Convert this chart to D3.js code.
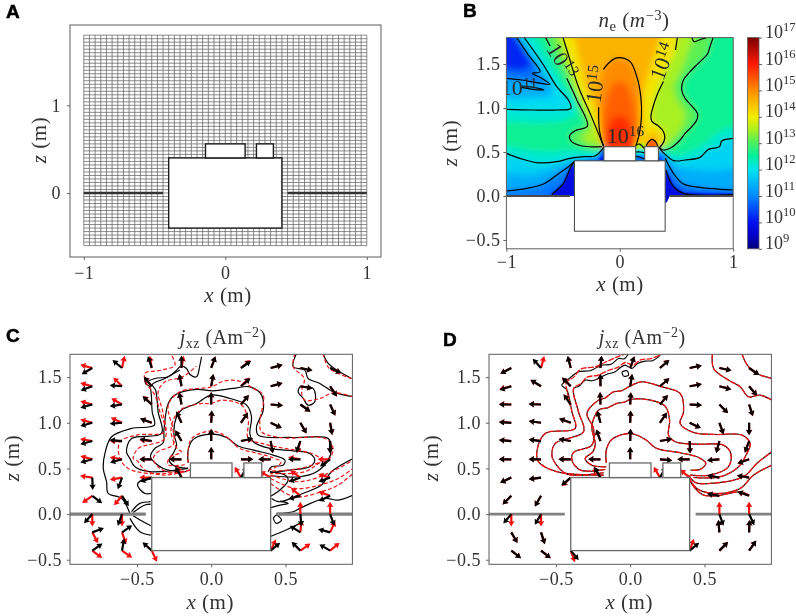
<!DOCTYPE html>
<html lang="en">
  <head>
    <meta charset="UTF-8" />
    <title>Plasma mesh, density and current</title>
    <style type="text/css">
      body {
        margin: 0;
        background: #ffffff;
      }
      svg {
        display: block;
        font-family: "Liberation Serif", serif;
        filter: blur(0.35px);
      }
      .tick text,
      .label {
        fill: #333333;
        font-size: 18px;
        letter-spacing: 0.5px;
      }
      .tick line {
        stroke: #666666;
      }
      .panel-tag {
        font-family: "Liberation Sans", Arial, sans-serif;
        font-weight: bold;
        font-size: 19px;
        fill: #000000;
        stroke: #000000;
        stroke-width: 0.5px;
      }
    </style>
  </head>
  <body>
    <script src="https://d3js.org/d3.v7.min.js"></script>
    <script>
      // shared geometry, metres
      var mainBox = [-0.4, 0.4, -0.4, 0.4];
      var topBoxA = [-0.14, 0.14, 0.4, 0.56];
      var topBoxB = [0.22, 0.34, 0.4, 0.56];
      var plateEnd = 0.44;
      var meshStep = 0.04;

      var colorLevels = [9, 9.5, 10, 11, 12, 12.5, 13, 13.5, 14, 15, 16, 17];
      var colorValues = ["#00007a", "#0000c8", "#0010f0", "#0088ff", "#00e4f0", "#00f0a0", "#48f060", "#a8f020", "#f4ee00", "#ff8c00", "#ff1800", "#7a0000"];
      var colorbarTicks = [9, 10, 11, 12, 13, 14, 15, 16, 17];

      // panel B, contour lines of log10(ne)
      var line14Right1 = [[0.509, 1.81], [0.491, 1.659]];
      var line14Right2 = [[0.385, 1.3], [0.326, 1.14], [0.288, 0.99], [0.274, 0.9], [0.285, 0.845], [0.341, 0.795], [0.385, 0.731], [0.397, 0.655], [0.371, 0.58], [0.341, 0.54]];
      var line14Left = [[-0.503, 1.81], [-0.453, 1.602], [-0.365, 1.242], [-0.262, 0.939], [-0.144, 0.568]];
      var line13Right = [[0.826, 1.81], [0.797, 1.705], [0.773, 1.614], [0.708, 1.527], [0.62, 1.413], [0.561, 1.318], [0.546, 1.205], [0.576, 1.11], [0.635, 1.023], [0.685, 0.939], [0.679, 0.864], [0.635, 0.788], [0.576, 0.712], [0.532, 0.636], [0.444, 0.542], [0.385, 0.523], [0.349, 0.553]];
      var line13Top = [[0.635, 1.81], [0.655, 1.754], [0.723, 1.784], [0.796, 1.81]];
      var line13Left1 = [[-0.659, 1.81], [-0.615, 1.705]];
      var line13Left2 = [[-0.468, 1.337], [-0.379, 1.091], [-0.285, 0.795], [-0.394, 0.742], [-0.444, 0.682], [-0.424, 0.617], [-0.335, 0.568], [-0.159, 0.561]];
      var line15a = [[-0.144, 0.568], [-0.18, 0.75], [-0.186, 1.008]];
      var line15b = [[-0.144, 1.439], [-0.1, 1.508], [-0.041, 1.564], [0.003, 1.572], [0.091, 1.527], [0.15, 1.356], [0.185, 1.129], [0.191, 0.902], [0.173, 0.712], [0.141, 0.568]];
      var line15Hump = [[0.232, 0.568], [0.255, 0.617], [0.282, 0.644], [0.311, 0.625], [0.335, 0.568]];
      var line14Gap = [[0.144, 0.58], [0.175, 0.59], [0.215, 0.54]];
      var line12Gap = [[0.144, 0.5], [0.18, 0.5], [0.218, 0.49]];
      var line11Gap = [[0.144, 0.45], [0.18, 0.44], [0.218, 0.42]];
      var line12Left = [[-1, 0.485], [-0.879, 0.428], [-0.733, 0.379], [-0.556, 0.39], [-0.438, 0.428], [-0.32, 0.447], [-0.218, 0.455], [-0.159, 0.523], [-0.138, 0.561]];
      var line12Right = [[1, 0.655], [0.899, 0.625], [0.879, 0.561], [0.782, 0.53], [0.708, 0.439], [0.576, 0.409], [0.473, 0.402], [0.385, 0.492], [0.349, 0.542]];
      var line11Left = [[-1, 0.057], [-0.821, 0.087], [-0.674, 0.136], [-0.556, 0.239], [-0.453, 0.333], [-0.403, 0.39]];
      var line11Right = [[0.4, 0.428], [0.473, 0.258], [0.561, 0.136], [0.708, 0.098], [0.885, 0.076], [1, 0.068]];
      var line10Left = [[-0.6, 0.019], [-0.497, 0.144], [-0.438, 0.314], [-0.403, 0.39]];
      var line10Right = [[0.405, 0.295], [0.473, 0.106], [0.561, 0.03], [1, 0.015]];
      var line12Wedge = [[-1, 0.985], [-0.762, 0.977], [-0.556, 0.977], [-0.432, 0.996], [-0.453, 1.091], [-0.556, 1.242], [-0.673, 1.489], [-0.849, 1.81]];
      var line11Wedge = [[-0.915, 1.81], [-0.806, 1.602], [-0.703, 1.413], [-0.771, 1.394], [-0.688, 1.337], [-0.615, 1.269], [-0.732, 1.288], [-0.864, 1.318], [-1, 1.337]];
      var line11Sliver = [[-0.864, 1.235], [-0.762, 1.212], [-0.668, 1.205], [-0.762, 1.235], [-0.864, 1.25]];

      // panel B, nested colour regions: level, outline
      var region131 = [[-0.659, 1.9], [-0.615, 1.705], [-0.468, 1.337], [-0.379, 1.091], [-0.285, 0.795], [-0.394, 0.742], [-0.444, 0.682], [-0.424, 0.617], [-0.335, 0.568], [-0.159, 0.5], [0.349, 0.5], [0.444, 0.542], [0.532, 0.636], [0.576, 0.712], [0.635, 0.788], [0.679, 0.864], [0.685, 0.939], [0.635, 1.023], [0.576, 1.11], [0.546, 1.205], [0.561, 1.318], [0.62, 1.413], [0.708, 1.527], [0.773, 1.614], [0.83, 1.9]];
      var region135 = [[-0.58, 1.9], [-0.42, 1.3], [-0.33, 1.0], [-0.24, 0.8], [-0.3, 0.72], [-0.34, 0.66], [-0.3, 0.61], [-0.16, 0.56], [0.36, 0.52], [0.47, 0.65], [0.56, 0.8], [0.58, 0.95], [0.5, 1.1], [0.47, 1.25], [0.55, 1.45], [0.68, 1.9]];
      var region140 = [[-0.52, 1.9], [-0.453, 1.602], [-0.365, 1.242], [-0.262, 0.939], [-0.144, 0.52], [0.341, 0.52], [0.371, 0.58], [0.397, 0.655], [0.385, 0.731], [0.341, 0.795], [0.285, 0.845], [0.274, 0.9], [0.288, 1.015], [0.326, 1.205], [0.371, 1.348], [0.491, 1.659], [0.52, 1.9]];
      var region145 = [[-0.42, 1.9], [-0.3, 1.25], [-0.2, 0.95], [-0.13, 0.5], [0.13, 0.5], [0.21, 0.75], [0.18, 0.95], [0.21, 1.2], [0.28, 1.5], [0.38, 1.9]];
      var region150 = [[-0.144, 0.5], [-0.18, 0.75], [-0.186, 1.008], [-0.17, 1.3], [-0.144, 1.439], [-0.1, 1.508], [-0.041, 1.564], [0.003, 1.572], [0.091, 1.527], [0.15, 1.356], [0.185, 1.129], [0.191, 0.902], [0.173, 0.712], [0.141, 0.5]];
      var region153 = [[-0.15, 0.5], [-0.15, 0.85], [-0.12, 1.1], [-0.07, 1.26], [0, 1.31], [0.07, 1.26], [0.12, 1.05], [0.14, 0.85], [0.125, 0.5]];
      var region157 = [[-0.13, 0.5], [-0.12, 0.72], [-0.08, 0.86], [0, 0.93], [0.08, 0.86], [0.12, 0.68], [0.115, 0.5]];
      var regionHump145 = [[0.2, 0.52], [0.22, 0.68], [0.29, 0.74], [0.36, 0.68], [0.36, 0.52]];
      var regionHump154 = [[0.232, 0.52], [0.255, 0.617], [0.282, 0.644], [0.311, 0.625], [0.335, 0.52]];
      var regionWedge122 = [[-1.1, 0.85], [-0.7, 0.83], [-0.5, 0.85], [-0.38, 0.92], [-0.4, 1.1], [-0.5, 1.25], [-0.63, 1.55], [-0.79, 1.9], [-1.1, 1.9]];
      var regionWedge119 = [[-1.1, 0.985], [-0.762, 0.977], [-0.556, 0.977], [-0.432, 0.996], [-0.453, 1.091], [-0.556, 1.242], [-0.673, 1.489], [-0.88, 1.9], [-1.1, 1.9]];
      var regionWedge114 = [[-1.1, 1.1], [-0.75, 1.12], [-0.6, 1.13], [-0.6, 1.27], [-0.7, 1.47], [-0.92, 1.9], [-1.1, 1.9]];
      var regionWedge108 = [[-0.95, 1.9], [-0.806, 1.602], [-0.703, 1.413], [-0.771, 1.394], [-0.688, 1.337], [-0.615, 1.269], [-0.732, 1.288], [-0.864, 1.318], [-1.1, 1.337], [-1.1, 1.9]];
      var regionWedge102 = [[-1.1, 1.45], [-0.85, 1.42], [-0.76, 1.5], [-0.96, 1.9], [-1.1, 1.9]];
      var regionLeft122 = [[-1.1, 0.6], [-0.8, 0.52], [-0.6, 0.5], [-0.45, 0.52], [-0.3, 0.5], [-0.2, 0.5], [-0.138, 0.57], [-0.138, -0.1], [-1.1, -0.1]];
      var regionLeft118 = [[-1.1, 0.485], [-0.879, 0.428], [-0.733, 0.379], [-0.556, 0.39], [-0.438, 0.428], [-0.32, 0.447], [-0.218, 0.455], [-0.159, 0.523], [-0.138, 0.561], [-0.138, -0.1], [-1.1, -0.1]];
      var regionLeft114 = [[-1.1, 0.27], [-0.8, 0.24], [-0.65, 0.28], [-0.5, 0.36], [-0.38, 0.42], [-0.38, -0.1], [-1.1, -0.1]];
      var regionLeft109 = [[-1.1, 0.057], [-0.821, 0.087], [-0.674, 0.136], [-0.556, 0.239], [-0.453, 0.333], [-0.38, 0.41], [-0.38, -0.1], [-1.1, -0.1]];
      var regionLeft104 = [[-0.66, -0.1], [-0.62, 0.03], [-0.5, 0.08], [-0.44, 0.24], [-0.4, 0.33], [-0.38, 0.4], [-0.38, -0.1]];
      var regionLeft98 = [[-0.6, -0.1], [-0.6, 0.019], [-0.497, 0.144], [-0.438, 0.314], [-0.403, 0.39], [-0.38, -0.1]];
      var regionRight122 = [[1.1, 0.8], [0.9, 0.75], [0.8, 0.65], [0.7, 0.55], [0.55, 0.47], [0.45, 0.46], [0.38, 0.55], [0.349, 0.56], [0.349, -0.1], [1.1, -0.1]];
      var regionRight118 = [[1.1, 0.655], [0.899, 0.625], [0.879, 0.561], [0.782, 0.53], [0.708, 0.439], [0.576, 0.409], [0.473, 0.402], [0.385, 0.492], [0.349, 0.542], [0.349, -0.1], [1.1, -0.1]];
      var regionRight114 = [[1.1, 0.33], [0.8, 0.28], [0.62, 0.3], [0.5, 0.33], [0.42, 0.44], [0.38, 0.5], [0.38, -0.1], [1.1, -0.1]];
      var regionRight109 = [[0.4, 0.428], [0.473, 0.258], [0.561, 0.136], [0.708, 0.098], [0.885, 0.076], [1.1, 0.068], [1.1, -0.1], [0.38, -0.1]];
      var regionRight104 = [[0.4, 0.38], [0.44, 0.22], [0.5, 0.11], [0.6, 0.05], [1.1, 0.04], [1.1, -0.1], [0.38, -0.1]];
      var regionRight98 = [[0.405, 0.295], [0.473, 0.106], [0.561, 0.03], [1.1, 0.015], [1.1, -0.1], [0.38, -0.1]];
      var regionTop110 = [[-0.4, 0.4], [-0.3, 0.42], [-0.2, 0.44], [-0.16, 0.52], [-0.138, 0.56], [-0.138, 0.38], [-0.4, 0.38]];
      var regionTop99 = [[-0.2, 0.4], [-0.16, 0.46], [-0.14, 0.55], [-0.14, 0.38]];
      var regionGap135 = [[0.14, 0.6], [0.22, 0.6], [0.22, 0.52], [0.14, 0.52]];
      var regionGap120 = [[0.14, 0.53], [0.22, 0.53], [0.22, 0.38], [0.14, 0.38]];
      var regionGap108 = [[0.14, 0.47], [0.22, 0.46], [0.22, 0.38], [0.14, 0.38]];
      var regionSide110 = [[0.34, 0.53], [0.36, 0.5], [0.42, 0.42], [0.42, 0.38], [0.34, 0.38]];
      var regionSide99 = [[0.34, 0.46], [0.38, 0.4], [0.34, 0.38]];
      var regionBlob = [[0.4, 0], [0.44, 0], [0.42, -0.06], [0.4, -0.085]];

      var bigRegions = [
        [13.1, region131], [13.5, region135], [14.1, region140], [14.6, region145], [15, region150], [15.4, region153], [15.8, region157],
        [14.5, regionHump145],
        [12.2, regionWedge122], [11.9, regionWedge119], [11.4, regionWedge114], [10.8, regionWedge108], [10.2, regionWedge102],
        [12.2, regionLeft122], [11.8, regionLeft118], [11.4, regionLeft114], [10.9, regionLeft109], [10.4, regionLeft104],
        [12.2, regionRight122], [11.8, regionRight118], [11.4, regionRight114], [10.9, regionRight109], [10.4, regionRight104],
      ];
      var smallRegions = [
        [15.4, regionHump154], [9.8, regionLeft98], [9.8, regionRight98],
        [11, regionTop110], [9.9, regionTop99],
        [13.5, regionGap135], [12, regionGap120], [10.8, regionGap108],
        [11, regionSide110], [9.9, regionSide99],
      ];
      var neLines = [
        line14Right1, line14Right2, line14Left, line13Right, line13Top, line13Left1, line13Left2, line15a, line15b, line15Hump,
        line14Gap, line12Gap, line11Gap, line12Left, line12Right, line11Left, line11Right, line10Left, line10Right,
        line12Wedge, line11Wedge, line11Sliver,
      ];
      var neLabelAt = [[-0.565, 1.49], [-0.15, 1.26], [0.44, 1.5], [-1.05, 1.15], [-0.115, 0.6]];
      var neLabelTurn = [58, -82, -70, 0, 0];
      var neLabelPower = [13, 15, 14, 11, 16];

      // panels C and D, quiver nodes and direction in degrees (0 right, 90 up)
      var quiverX = [-0.8, -0.6, -0.4, -0.2, 0, 0.2, 0.4, 0.6, 0.8];
      var quiverZ = [1.6, 1.4, 1.2, 1.0, 0.8, 0.6, 0.4, 0.2, 0, -0.2, -0.4];
      var _ = null;
      var blackAnglesC = [
        [210, 140, 108, 90, 70, 35, 15, -12, -25],
        [200, 175, 130, 100, 80, 40, 15, -10, -57],
        [195, 188, 138, 100, 90, 50, -4, -35, -65],
        [195, 185, 160, 115, 87, 55, -25, -60, -80],
        [195, 175, 170, 120, 90, 12, -80, -110, -90],
        [195, 195, 180, 180, 90, 0, 180, 180, 215],
        [-88, -110, 200, 120, _, 60, _, 200, 200],
        [-37, -57, _, _, _, _, _, 195, 205],
        [228, 250, _, _, _, _, _, -85, -70],
        [20, 35, _, _, _, _, _, 148, 165],
        [35, 80, 138, _, _, _, 40, 135, 150],
      ];
      var redAnglesC = [
        [165, 78, 100, 80, 70, 40, 15, -12, -25],
        [165, 135, 130, 100, 80, 45, 15, -10, -55],
        [165, 150, 135, 100, 90, 50, -4, -35, -65],
        [165, 155, 160, 115, 87, 55, -25, -60, -80],
        [170, 180, 175, 120, 90, 10, -80, -105, -90],
        [165, 170, 180, 180, 90, 0, 180, 170, 180],
        [172, 190, 180, 110, _, 120, 150, 145, 165],
        [215, 230, _, _, _, _, _, 140, 160],
        [-90, -90, _, _, _, _, _, 90, 90],
        [-62, -70, _, _, _, _, _, 85, 65],
        [-37, -35, -65, _, _, _, 65, 35, 40],
      ];
      var blackAnglesD = [
        [208, 132, 105, 85, 70, 40, 12, -12, -35],
        [198, 148, 135, 90, 80, 40, 10, -15, -50],
        [180, 178, 125, 92, 87, 50, -3, -45, -72],
        [177, 172, 160, 105, 88, 55, -25, -70, -90],
        [175, 173, 170, 110, 88, 10, -88, -105, -110],
        [180, 180, 180, 180, 90, -5, 180, 185, 200],
        [205, 188, 220, 120, _, 60, _, 170, 170],
        [225, 240, _, _, _, _, _, 170, 160],
        [230, 240, _, _, _, _, _, -70, -65],
        [-60, -72, _, _, _, _, _, 95, 88],
        [-38, -38, -50, _, _, _, 40, 45, 55],
      ];
      var redAnglesD = [
        [206, 75, 103, 85, 70, 42, 12, -12, -35],
        [194, 150, 135, 92, 82, 40, 10, -15, -50],
        [178, 178, 125, 92, 87, 50, -3, -45, -72],
        [175, 172, 160, 105, 88, 55, -25, -70, -90],
        [175, 173, 170, 110, 88, 10, -88, -105, -110],
        [180, 180, 180, 180, 90, -5, 180, 185, 200],
        [205, 188, 225, 125, _, 120, 140, 170, 170],
        [225, 240, _, _, _, _, _, 170, 160],
        [-90, -90, _, _, _, _, _, 90, 90],
        [-60, -72, _, _, _, _, _, 95, 88],
        [-38, -38, -70, _, _, _, 70, 45, 55],
      ];

      // panel C, solid (black) contours of the first run
      var blackC1 = [[-0.155, 0.562], [-0.155, 0.7], [-0.121, 0.818], [0.002, 0.876], [0.103, 0.839], [0.182, 0.745], [0.305, 0.693], [0.417, 0.646], [0.496, 0.591], [0.484, 0.536], [0.406, 0.518], [0.383, 0.464]];
      var blackC2 = [[-0.155, 0.5], [-0.256, 0.536], [-0.283, 0.591], [-0.256, 0.664], [-0.233, 0.755], [-0.251, 0.883], [-0.233, 1.066], [-0.2, 1.139], [-0.099, 1.212], [0, 1.303], [0.126, 1.266], [0.238, 1.193], [0.271, 1.066], [0.26, 0.883], [0.283, 0.792], [0.395, 0.719], [0.552, 0.693], [0.664, 0.664], [0.697, 0.591], [0.664, 0.518], [0.529, 0.482], [0.395, 0.453]];
      var blackC3 = [[-0.166, 0.464], [-0.323, 0.5], [-0.408, 0.628], [-0.379, 0.719], [-0.323, 0.781], [-0.318, 0.92], [-0.289, 1.212], [-0.244, 1.303], [-0.099, 1.365], [0.013, 1.35], [0.148, 1.376], [0.26, 1.394], [0.339, 1.303], [0.35, 1.139], [0.305, 0.956], [0.316, 0.865], [0.552, 0.839], [0.787, 0.828], [0.809, 0.719], [0.787, 0.591], [0.709, 0.464], [0.596, 0.409], [0.395, 0.42]];
      var blackC4 = [[-0.065, 1.723], [-0.076, 1.631], [-0.099, 1.504], [-0.143, 1.529], [-0.166, 1.595], [-0.2, 1.624], [-0.233, 1.577], [-0.289, 1.504], [-0.379, 1.485], [-0.442, 1.431], [-0.413, 1.394], [-0.397, 1.12], [-0.383, 0.974], [-0.536, 0.938], [-0.67, 0.847], [-0.715, 0.664], [-0.726, 0.5], [-0.704, 0.354], [-0.693, 0.226], [-0.603, 0.172], [-0.547, 0.007]];
      var blackC5 = [[-0.211, 1.577], [-0.312, 1.485], [-0.397, 1.42], [-0.374, 1.358], [-0.357, 1.12], [-0.334, 0.883], [-0.536, 0.828], [-0.57, 0.682], [-0.547, 0.61], [-0.513, 0.518], [-0.413, 0.464], [-0.155, 0.5]];
      var blackCp1 = [[-0.406, 0.383], [-0.468, 0.372], [-0.496, 0.318], [-0.446, 0.226], [-0.406, 0.226]];
      var blackCp2 = [[-0.536, 0.026], [-0.48, 0.117], [-0.406, 0.135]];
      var blackCp3 = [[-0.525, 0.018], [-0.446, 0.099], [-0.406, 0.109]];
      var blackCp4 = [[-0.547, -0.047], [-0.48, -0.193], [-0.406, -0.23]];
      var blackCp5 = [[-0.525, -0.018], [-0.457, -0.084], [-0.406, -0.128]];
      var blackCr1 = [[0.395, 0.19], [0.462, 0.263], [0.518, 0.372], [0.496, 0.427], [0.395, 0.464]];
      var blackCr2 = [[0.406, 0.172], [0.462, 0.135], [0.585, 0.208], [0.742, 0.318], [0.809, 0.464], [0.955, 0.609]];
      var blackCr3 = [[0.439, 0.007], [0.552, 0.026], [0.596, 0.062], [0.765, 0.172], [0.854, 0.153], [0.955, 0.208]];
      var blackCr5 = [[0.395, -0.248], [0.518, -0.164], [0.596, -0.102]];
      var blackCr6 = [[0.399, 0.069], [0.462, 0.099], [0.518, 0.117], [0.462, 0.142]];
      var blackCr7 = [[0.417, -0.047], [0.439, -0.011], [0.473, -0.066], [0.439, -0.102], [0.417, -0.047]];
      var blackCt1 = [[0.574, 1.76], [0.552, 1.613], [0.63, 1.577], [0.652, 1.485], [0.731, 1.431], [0.821, 1.339], [0.955, 1.285]];
      var blackCt2 = [[0.753, 1.76], [0.787, 1.65], [0.944, 1.485]];
      var blackCloop = [[0.596, 1.394], [0.686, 1.376], [0.697, 1.23], [0.652, 1.193], [0.619, 1.266], [0.585, 1.339], [0.596, 1.394]];

      // panel C, dashed (red) contours of the second run
      var redC1 = [[-0.155, 0.562], [-0.155, 0.7], [-0.13, 0.83], [0, 0.91], [0.1, 0.85], [0.19, 0.72], [0.3, 0.67], [0.41, 0.62], [0.47, 0.57], [0.44, 0.52], [0.39, 0.48]];
      var redC2 = [[-0.178, 0.54], [-0.29, 0.54], [-0.28, 0.62], [-0.2, 0.68], [-0.23, 0.72], [-0.27, 0.9], [-0.25, 1.05], [-0.2, 1.15], [-0.07, 1.21], [0, 1.21], [0.07, 1.248], [0.204, 1.193], [0.249, 1.029], [0.249, 0.828], [0.339, 0.774], [0.496, 0.719], [0.675, 0.664], [0.742, 0.591], [0.6, 0.5], [0.4, 0.47]];
      var redC3 = [[-0.143, 0.482], [-0.312, 0.47], [-0.39, 0.6], [-0.36, 0.68], [-0.256, 0.76], [-0.256, 0.92], [-0.289, 1.193], [-0.211, 1.339], [0.002, 1.394], [0.07, 1.449], [0.137, 1.467], [0.204, 1.449], [0.283, 1.376], [0.35, 1.303], [0.327, 1.011], [0.339, 0.901], [0.473, 0.836], [0.765, 0.828], [0.82, 0.72], [0.787, 0.591], [0.742, 0.573], [0.63, 0.464], [0.399, 0.445]];
      var redC4 = [[-0.143, 0.482], [-0.312, 0.427], [-0.446, 0.482], [-0.502, 0.591], [-0.525, 0.609], [-0.491, 0.719], [-0.312, 0.828], [-0.326, 1.12], [-0.357, 1.34], [-0.31, 1.45], [-0.21, 1.49], [-0.166, 1.53], [-0.1, 1.62]];
      var redC5 = [[-0.177, 0.464], [-0.424, 0.445], [-0.558, 0.5], [-0.614, 0.609], [-0.614, 0.792], [-0.502, 0.865], [-0.312, 0.901], [-0.345, 1.12], [-0.379, 1.303], [-0.435, 1.431], [-0.446, 1.54], [-0.334, 1.577], [-0.244, 1.631], [-0.267, 1.741]];
      var redCa1 = [[0.399, 0.427], [0.585, 0.354], [0.731, 0.409], [0.854, 0.5], [0.955, 0.591]];
      var redCa2 = [[0.399, 0.39], [0.563, 0.281], [0.731, 0.318], [0.854, 0.39], [0.955, 0.5]];
      var redCa3 = [[0.399, 0.336], [0.563, 0.19], [0.742, 0.245], [0.854, 0.318], [0.955, 0.445]];
      var redCt1 = [[0.563, 1.76], [0.552, 1.613], [0.626, 1.485], [0.608, 1.339], [0.63, 1.248], [0.731, 1.266], [0.821, 1.328], [0.955, 1.285]];
      var redCt2 = [[0.753, 1.76], [0.791, 1.602], [0.944, 1.485]];

      // panel D contours; the runs agree except near the top, where the red copy drifts
      var contourD1 = [[-0.161, 0.562], [-0.161, 0.7], [-0.123, 0.818], [0, 0.883], [0.101, 0.818], [0.179, 0.719], [0.336, 0.672], [0.46, 0.62], [0.509, 0.555], [0.471, 0.489], [0.404, 0.482]];
      var contourD2 = [[-0.161, 0.518], [-0.258, 0.536], [-0.303, 0.609], [-0.251, 0.682], [-0.235, 0.766], [-0.258, 0.956], [-0.213, 1.139], [-0.15, 1.165], [-0.09, 1.212], [-0.04, 1.225], [0, 1.255], [0.135, 1.248], [0.235, 1.182], [0.265, 1.029], [0.258, 0.865], [0.303, 0.792], [0.448, 0.766], [0.628, 0.755], [0.677, 0.664], [0.661, 0.518], [0.538, 0.427], [0.404, 0.427]];
      var contourD3 = [[-0.168, 0.489], [-0.336, 0.482], [-0.392, 0.591], [-0.381, 0.675], [-0.258, 0.755], [-0.247, 0.938], [-0.291, 1.102], [-0.213, 1.248], [-0.17, 1.27], [-0.112, 1.339], [-0.06, 1.35], [0.011, 1.412], [0.078, 1.449], [0.213, 1.394], [0.336, 1.321], [0.359, 1.12], [0.336, 0.993], [0.426, 0.894], [0.572, 0.872], [0.751, 0.865], [0.807, 0.774], [0.785, 0.664], [0.729, 0.518], [0.605, 0.409], [0.426, 0.401]];
      var contourD4 = [[-0.179, 0.453], [-0.426, 0.438], [-0.511, 0.573], [-0.527, 0.646], [-0.504, 0.774], [-0.314, 0.901], [-0.348, 1.12], [-0.381, 1.376], [-0.345, 1.4], [-0.303, 1.467], [-0.26, 1.46], [-0.213, 1.485], [-0.16, 1.53], [-0.101, 1.558], [-0.07, 1.6], [-0.034, 1.631], [0.011, 1.595], [0.05, 1.65], [0.101, 1.675], [0.15, 1.68], [0.202, 1.741]];
      var contourD5 = [[-0.179, 0.427], [-0.493, 0.464], [-0.617, 0.573], [-0.628, 0.682], [-0.572, 0.883], [-0.37, 0.938], [-0.392, 1.12], [-0.426, 1.358], [-0.46, 1.412], [-0.42, 1.47], [-0.348, 1.558], [-0.27, 1.57], [-0.191, 1.631], [-0.13, 1.64], [-0.078, 1.704], [-0.04, 1.7], [-0.011, 1.76]];
      var redD4 = [[-0.179, 0.453], [-0.426, 0.438], [-0.511, 0.573], [-0.527, 0.646], [-0.504, 0.774], [-0.314, 0.901], [-0.348, 1.12], [-0.381, 1.376], [-0.33, 1.43], [-0.29, 1.5], [-0.22, 1.52], [-0.15, 1.57], [-0.08, 1.61], [-0.034, 1.66], [0.02, 1.63], [0.07, 1.69], [0.13, 1.7], [0.202, 1.741]];
      var redD5 = [[-0.179, 0.427], [-0.493, 0.464], [-0.617, 0.573], [-0.628, 0.682], [-0.572, 0.883], [-0.37, 0.938], [-0.392, 1.12], [-0.426, 1.358], [-0.43, 1.44], [-0.38, 1.5], [-0.33, 1.59], [-0.24, 1.61], [-0.17, 1.66], [-0.09, 1.72], [-0.02, 1.76]];
      var contourDa1 = [[0.392, 0.427], [0.437, 0.347], [0.538, 0.336], [0.762, 0.409], [0.852, 0.555], [0.953, 0.682]];
      var contourDa2 = [[0.392, 0.409], [0.448, 0.281], [0.572, 0.226], [0.74, 0.281], [0.83, 0.427], [0.953, 0.536]];
      var contourDa3 = [[0.392, 0.398], [0.437, 0.281], [0.493, 0.208], [0.583, 0.2], [0.74, 0.245], [0.8, 0.21]];
      var contourDt1 = [[0.554, 1.76], [0.561, 1.595], [0.661, 1.467], [0.74, 1.394], [0.796, 1.285], [0.874, 1.303], [0.953, 1.248]];
      var contourDt2 = [[0.751, 1.76], [0.774, 1.668], [0.83, 1.558], [0.953, 1.485]];
      var contourDloop = [[-0.056, 1.558], [-0.022, 1.569], [-0.011, 1.522], [-0.045, 1.511], [-0.056, 1.558]];

      var blackLinesC = [blackC1, blackC2, blackC3, blackC4, blackC5, blackCp1, blackCp2, blackCp3, blackCp4, blackCp5, blackCr1, blackCr2, blackCr3, blackCr5, blackCr6, blackCr7, blackCt1, blackCt2, blackCloop];
      var redLinesC = [redC1, redC2, redC3, redC4, redC5, redCa1, redCa2, redCa3, redCt1, redCt2];
      var blackLinesD = [contourD1, contourD2, contourD3, contourD4, contourD5, contourDa1, contourDa2, contourDa3, contourDt1, contourDt2, contourDloop];
      var redLinesD = [contourD1, contourD2, contourD3, redD4, redD5, contourDa1, contourDa2, contourDa3, contourDt1, contourDt2];

      var svg = d3.select("body").append("svg").attr("width", 796).attr("height", 616);
      var defs = svg.append("defs");

      var neColor = d3.scaleLinear().domain(colorLevels).range(colorValues).interpolate(d3.interpolateRgb);

      defs.append("filter").attr("id", "blurBig").attr("x", "-10%").attr("y", "-10%").attr("width", "120%").attr("height", "120%")
        .append("feGaussianBlur").attr("stdDeviation", 3);
      defs.append("filter").attr("id", "blurSmall").attr("x", "-10%").attr("y", "-10%").attr("width", "120%").attr("height", "120%")
        .append("feGaussianBlur").attr("stdDeviation", 0.9);

      var arrowShape = "M0,-1.1L7.4,-1.1L7,-3.2L12.4,0L7,3.2L7.4,1.1L0,1.1Z";
      var fmtOne = function (d) { return d3.format(".1f")(d).replace("-", "\u2212"); };
      var fmtInt = function (d) { return d < 0 ? "\u2212" + -d : d; };

      // writes a mixed run of italic, sub and superscript pieces as one text node
      function richText(node, parts) {
        var shift = 0;
        parts.forEach(function (p) {
          var target = p.sup ? -7 : p.sub ? 4 : 0;
          node
            .append("tspan")
            .attr("dy", target - shift)
            .attr("font-style", p.i ? "italic" : null)
            .attr("font-size", p.sup || p.sub ? "0.7em" : null)
            .text(p.t);
          shift = target;
        });
        return node;
      }

      function panel(opts) {
        var x = d3.scaleLinear().domain(opts.xDomain).range(opts.xRange);
        var z = d3.scaleLinear().domain(opts.zDomain).range(opts.zRange);
        var g = svg.append("g");
        var id = "clip" + opts.tag;
        defs.append("clipPath").attr("id", id).append("rect")
          .attr("x", opts.xRange[0]).attr("y", opts.zRange[1])
          .attr("width", opts.xRange[1] - opts.xRange[0])
          .attr("height", opts.zRange[0] - opts.zRange[1]);
        var axisG = svg.append("g");
        axisG.append("rect")
          .attr("x", opts.xRange[0]).attr("y", opts.zRange[1])
          .attr("width", opts.xRange[1] - opts.xRange[0])
          .attr("height", opts.zRange[0] - opts.zRange[1])
          .attr("fill", "none").attr("stroke", "#5c5c5c").attr("stroke-width", 1);
        var bottom = d3.axisBottom(x).tickValues(opts.xTicks).tickFormat(opts.xFormat).tickSize(3).tickPadding(opts.xPad);
        var left = d3.axisLeft(z).tickValues(opts.zTicks).tickFormat(opts.zFormat).tickSize(3).tickPadding(opts.zPad);
        [
          axisG.append("g").attr("transform", "translate(0," + opts.zRange[0] + ")").call(bottom),
          axisG.append("g").attr("transform", "translate(" + opts.xRange[0] + ",0)").call(left),
        ].forEach(function (a) {
          a.attr("font-family", null).attr("font-size", null);
          a.select(".domain").remove();
        });
        richText(axisG.append("text").attr("class", "label").attr("text-anchor", "middle").attr("x", opts.xLabel[0]).attr("y", opts.xLabel[1]).style("font-size", "21px"), [{ t: "x", i: 1 }, { t: " (m)" }]);
        richText(axisG.append("text").attr("class", "label").attr("text-anchor", "middle").style("font-size", "21px")
          .attr("transform", "translate(" + opts.zLabel[0] + "," + opts.zLabel[1] + ") rotate(-90)"), [{ t: "z", i: 1 }, { t: " (m)" }]);
        svg.append("text").attr("class", "panel-tag").attr("x", opts.tagAt[0]).attr("y", opts.tagAt[1]).text(opts.tag);
        return { x: x, z: z, g: g.attr("clip-path", "url(#" + id + ")"), axisG: axisG };
      }

      function drawBoxes(p, stroke, width) {
        [mainBox, topBoxA, topBoxB].forEach(function (b) {
          p.g.append("rect")
            .attr("x", p.x(b[0])).attr("y", p.z(b[3]))
            .attr("width", p.x(b[1]) - p.x(b[0]))
            .attr("height", p.z(b[2]) - p.z(b[3]))
            .attr("fill", "#ffffff").attr("stroke", stroke).attr("stroke-width", width);
        });
      }

      function drawPlates(p, stroke, width) {
        [[p.x.domain()[0], -plateEnd], [plateEnd, p.x.domain()[1]]].forEach(function (d) {
          p.g.append("line")
            .attr("x1", p.x(d[0])).attr("x2", p.x(d[1]))
            .attr("y1", p.z(0)).attr("y2", p.z(0))
            .attr("stroke", stroke).attr("stroke-width", width);
        });
      }

      function lineFor(p) {
        return d3.line().x(function (d) { return p.x(d[0]); }).y(function (d) { return p.z(d[1]); }).curve(d3.curveCatmullRom.alpha(0.5));
      }

      function drawQuiver(p, angles, color) {
        var nodes = [];
        angles.forEach(function (row, i) {
          row.forEach(function (a, j) {
            if (a !== null) nodes.push({ x: quiverX[j], z: quiverZ[i], a: a });
          });
        });
        p.g.append("g").selectAll("path").data(nodes).join("path")
          .attr("d", arrowShape)
          .attr("fill", color)
          .attr("transform", function (d) { return "translate(" + p.x(d.x) + "," + p.z(d.z) + ") rotate(" + -d.a + ")"; });
      }

      // ---- panel A: mesh
      var pa = panel({
        tag: "A", tagAt: [6, 18],
        xDomain: [-1.0975, 1.1003], xRange: [70, 381], zDomain: [-0.73, 1.916], zRange: [257, 25],
        xTicks: [-1, 0, 1], xFormat: fmtInt, xPad: 6,
        zTicks: [0, 1], zFormat: fmtInt, zPad: 6,
        xLabel: [228, 302], zLabel: [46, 140],
      });
      var meshX = d3.range(-1, 1 + meshStep / 2, meshStep);
      var meshZ = d3.range(-0.6, 1.8 + meshStep / 2, meshStep);
      var mesh = pa.g.append("g").attr("stroke", "#5a5a5a").attr("stroke-width", 0.7);
      mesh.selectAll(".mx").data(meshX).join("line").attr("class", "mx")
        .attr("x1", pa.x).attr("x2", pa.x).attr("y1", pa.z(-0.6)).attr("y2", pa.z(1.8));
      mesh.selectAll(".mz").data(meshZ).join("line").attr("class", "mz")
        .attr("y1", pa.z).attr("y2", pa.z).attr("x1", pa.x(-1)).attr("x2", pa.x(1));
      [[-1, -plateEnd], [plateEnd, 1]].forEach(function (d) {
        pa.g.append("line").attr("x1", pa.x(d[0])).attr("x2", pa.x(d[1])).attr("y1", pa.z(0)).attr("y2", pa.z(0))
          .attr("stroke", "#333333").attr("stroke-width", 2.4);
      });
      drawBoxes(pa, "#1c1c1c", 1.4);

      // ---- panel B: electron density
      var pb = panel({
        tag: "B", tagAt: [463, 17],
        xDomain: [-1, 1], xRange: [506.4, 733.2], zDomain: [-0.6, 1.8], zRange: [248.8, 37.6],
        xTicks: [-1, 0, 1], xFormat: fmtInt, xPad: 3,
        zTicks: [-0.5, 0, 0.5, 1, 1.5], zFormat: fmtOne, zPad: 3,
        xLabel: [620, 291], zLabel: [457, 143],
      });
      defs.append("clipPath").attr("id", "clipField").append("rect")
        .attr("x", pb.x(-1)).attr("y", pb.z(1.8)).attr("width", pb.x(1) - pb.x(-1)).attr("height", pb.z(0) - pb.z(1.8));

      var fieldLine = d3.line().x(function (d) { return pb.x(d[0]); }).y(function (d) { return pb.z(d[1]); }).curve(d3.curveLinearClosed);
      var field = pb.g.append("g").attr("clip-path", "url(#clipField)");
      var bigField = field.append("g").attr("filter", "url(#blurBig)");
      bigField.append("rect").attr("x", pb.x(-1.2)).attr("y", pb.z(2)).attr("width", pb.x(1.2) - pb.x(-1.2)).attr("height", pb.z(-0.2) - pb.z(2)).attr("fill", neColor(12.6));
      bigField.selectAll("path").data(bigRegions).join("path")
        .attr("d", function (d) { return fieldLine(d[1]); })
        .attr("fill", function (d) { return neColor(d[0]); });
      field.append("g").attr("filter", "url(#blurSmall)").selectAll("path").data(smallRegions).join("path")
        .attr("d", function (d) { return fieldLine(d[1]); })
        .attr("fill", function (d) { return neColor(d[0]); });
      pb.g.append("path").attr("d", fieldLine(regionBlob)).attr("fill", neColor(9.5));

      pb.g.append("g").attr("fill", "none").attr("stroke", "#000000").attr("stroke-width", 1.2)
        .selectAll("path").data(neLines).join("path").attr("d", lineFor(pb));
      drawPlates(pb, "#4a4a4a", 1.8);
      drawBoxes(pb, "#444444", 1);

      neLabelAt.forEach(function (at, i) {
        var t = pb.g.append("text")
          .attr("transform", "translate(" + pb.x(at[0]) + "," + pb.z(at[1]) + ") rotate(" + neLabelTurn[i] + ")")
          .attr("text-anchor", neLabelTurn[i] === 0 ? "start" : "middle")
          .attr("fill", "#2a2a2a").style("font-size", "22px");
        richText(t, [{ t: "10" }, { t: String(neLabelPower[i]), sup: 1 }]);
      });

      richText(svg.append("text").attr("class", "label").attr("text-anchor", "middle").attr("x", 634).attr("y", 27).style("font-size", "21px"),
        [{ t: "n", i: 1 }, { t: "e", sub: 1 }, { t: " (" }, { t: "m", i: 1 }, { t: "\u22123", sup: 1 }, { t: ")" }]);

      // colour bar
      var barY = d3.scaleLinear().domain([9, 17]).range([248.8, 37.6]);
      var barGrad = defs.append("linearGradient").attr("id", "barGrad").attr("x1", 0).attr("x2", 0).attr("y1", 1).attr("y2", 0);
      colorLevels.forEach(function (v, i) {
        barGrad.append("stop").attr("offset", (v - 9) / 8).attr("stop-color", colorValues[i]);
      });
      svg.append("rect").attr("x", 747.6).attr("y", barY(17)).attr("width", 11.4).attr("height", barY(9) - barY(17))
        .attr("fill", "url(#barGrad)").attr("stroke", "#5c5c5c").attr("stroke-width", 0.8);
      var barAxis = svg.append("g").attr("transform", "translate(759,0)")
        .call(d3.axisRight(barY).tickValues(colorbarTicks).tickSize(3).tickPadding(3).tickFormat(function () { return ""; }));
      barAxis.attr("font-family", null).attr("font-size", null);
      barAxis.select(".domain").remove();
      barAxis.selectAll(".tick text").each(function (d) {
        var t = d3.select(this).attr("dy", 7).style("letter-spacing", "0px");
        richText(t, [{ t: "10" }, { t: String(d), sup: 1 }]);
      });

      // ---- panels C and D: current density
      function currentPanel(tag, xZero, tagAt, zLabelX) {
        var p = panel({
          tag: tag, tagAt: tagAt,
          xDomain: [-0.95, 0.95], xRange: [xZero - 141.2, xZero + 141.2], zDomain: [-0.55, 1.75], zRange: [564.3, 354.3],
          xTicks: [-0.5, 0, 0.5], xFormat: fmtOne, xPad: 5,
          zTicks: [-0.5, 0, 0.5, 1, 1.5], zFormat: fmtOne, zPad: 5,
          xLabel: [xZero - 1, 609], zLabel: [zLabelX, 458],
        });
        richText(svg.append("text").attr("class", "label").attr("text-anchor", "middle").attr("x", xZero + 12).attr("y", 344).style("font-size", "20px"),
          [{ t: "j", i: 1 }, { t: "xz", sub: 1 }, { t: " (Am" }, { t: "\u22122", sup: 1 }, { t: ")" }]);
        return p;
      }

      var pc = currentPanel("C", 211.2, [6, 342], 19);
      var pd = currentPanel("D", 630.2, [443, 346], 438);

      var lineC = lineFor(pc);
      pc.g.append("g").attr("fill", "none").attr("stroke", "#000000").attr("stroke-width", 1.2)
        .selectAll("path").data(blackLinesC).join("path").attr("d", lineC);
      pc.g.append("g").attr("fill", "none").attr("stroke", "#f01818").attr("stroke-width", 1.2).attr("stroke-dasharray", "4 2.2")
        .selectAll("path").data(redLinesC).join("path").attr("d", lineC);
      drawPlates(pc, "#808080", 3.4);
      drawQuiver(pc, redAnglesC, "#f01010");
      drawQuiver(pc, blackAnglesC, "#000000");
      drawBoxes(pc, "#6a6a6a", 1.3);

      var lineD = lineFor(pd);
      pd.g.append("g").attr("fill", "none").attr("stroke", "#000000").attr("stroke-width", 1.1)
        .selectAll("path").data(blackLinesD).join("path").attr("d", lineD);
      pd.g.append("g").attr("fill", "none").attr("stroke", "#f01414").attr("stroke-width", 1.3).attr("stroke-dasharray", "6 1.3")
        .selectAll("path").data(redLinesD).join("path").attr("d", lineD);
      drawPlates(pd, "#808080", 2.6);
      drawQuiver(pd, redAnglesD, "#f01010");
      drawQuiver(pd, blackAnglesD, "#000000");
      drawBoxes(pd, "#6a6a6a", 1.3);
    </script>
  </body>
</html>
